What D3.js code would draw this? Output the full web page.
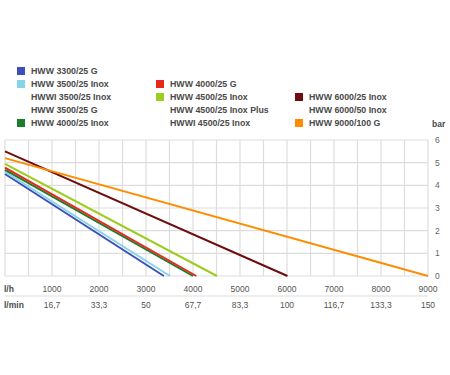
<!DOCTYPE html>
<html>
<head>
<meta charset="utf-8">
<script src="https://cdn.jsdelivr.net/npm/d3@7"></script>
<style>
  body { margin: 0; background: #fff; }
  svg { font-family: "Liberation Sans", Arial, sans-serif; }
</style>
</head>
<body>
<svg id="chart" width="450" height="375"></svg>
<script>
// Pump curves: start pressure (bar) at 0 l/h, falls straight to 0 bar at max flow
var seriesNames = ['HWW 3300/25 G', 'HWW 3500/25 Inox', 'HWW 4000/25 Inox', 'HWW 4000/25 G',
                   'HWW 4500/25 Inox', 'HWW 6000/25 Inox', 'HWW 9000/100 G'];
var seriesColors = ['#3d4fb8', '#86d4ea', '#1b7d2b', '#e5281a', '#9ccc1c', '#6e0d0d', '#ff8c00'];
var startPressure = [4.5, 4.6, 4.68, 4.78, 4.95, 5.5, 5.2];
var maxFlow = [3380, 3510, 4000, 4070, 4510, 6010, 9000];

// Legend, one list per column (bottom aligned)
var legendColumns = [
  ['HWW 3300/25 G', 'HWW 3500/25 Inox', 'HWWI 3500/25 Inox', 'HWW 3500/25 G', 'HWW 4000/25 Inox'],
  ['HWW 4000/25 G', 'HWW 4500/25 Inox', 'HWW 4500/25 Inox Plus', 'HWWI 4500/25 Inox'],
  ['HWW 6000/25 Inox', 'HWW 6000/50 Inox', 'HWW 9000/100 G']
];

var flowTicks = [1000, 2000, 3000, 4000, 5000, 6000, 7000, 8000, 9000];
var minuteLabels = ['16,7', '33,3', '50', '67,7', '83,3', '100', '116,7', '133,3', '150'];
var pressureTicks = [0, 1, 2, 3, 4, 5, 6];

var config = {
  left: 5, right: 428, top: 140, bottom: 276,
  legendX: [17, 156, 295], legendY: 71, legendRow: 13,
  textColor: '#4a4a4a', gridColor: '#dddddd'
};

var svg = d3.select('#chart');

var x = d3.scaleLinear().domain([0, 9000]).range([config.left, config.right]);
var y = d3.scaleLinear().domain([0, 6]).range([config.bottom, config.top]);

// Grid
var grid = svg.append('g');
grid.selectAll('line.v')
  .data(d3.range(0, 9001, 500))
  .enter().append('line')
  .attr('x1', function(d) { return x(d); })
  .attr('x2', function(d) { return x(d); })
  .attr('y1', y(6)).attr('y2', y(0))
  .attr('stroke', config.gridColor).attr('stroke-width', 1.2);
grid.selectAll('line.h')
  .data(pressureTicks)
  .enter().append('line')
  .attr('x1', x(0)).attr('x2', x(9000))
  .attr('y1', function(d) { return y(d); })
  .attr('y2', function(d) { return y(d); })
  .attr('stroke', config.gridColor).attr('stroke-width', 1.2);

// Right axis labels
svg.selectAll('text.ylab')
  .data(pressureTicks)
  .enter().append('text')
  .attr('x', 435).attr('y', function(d) { return y(d); })
  .attr('dy', '0.35em')
  .attr('font-size', 8.5).attr('fill', '#666')
  .text(function(d) { return d; });
svg.append('text')
  .attr('x', 432).attr('y', 127)
  .attr('font-size', 8.5).attr('font-weight', 'bold').attr('fill', config.textColor)
  .text('bar');

// Pump lines
var line = d3.line()
  .x(function(d) { return x(d[0]); })
  .y(function(d) { return y(d[1]); });

seriesNames.forEach(function(name, i) {
  svg.append('path')
    .attr('d', line([[0, startPressure[i]], [maxFlow[i], 0]]))
    .attr('stroke', seriesColors[i])
    .attr('stroke-width', 2)
    .attr('fill', 'none');
});

// Bottom scales
svg.selectAll('text.lh')
  .data(flowTicks)
  .enter().append('text')
  .attr('x', function(d) { return x(d); }).attr('y', 292)
  .attr('text-anchor', 'middle')
  .attr('font-size', 8.5).attr('fill', '#555')
  .text(function(d) { return d; });
svg.selectAll('text.lmin')
  .data(minuteLabels)
  .enter().append('text')
  .attr('x', function(d, i) { return x(flowTicks[i]); }).attr('y', 308)
  .attr('text-anchor', 'middle')
  .attr('font-size', 8.5).attr('fill', '#555')
  .text(function(d) { return d; });
svg.append('text').attr('x', 4).attr('y', 292)
  .attr('font-size', 8.5).attr('font-weight', 'bold').attr('fill', config.textColor)
  .text('l/h');
svg.append('text').attr('x', 4).attr('y', 308)
  .attr('font-size', 8.5).attr('font-weight', 'bold').attr('fill', config.textColor)
  .text('l/min');
svg.append('line')
  .attr('x1', x(0)).attr('x2', x(9000))
  .attr('y1', 296).attr('y2', 296)
  .attr('stroke', config.gridColor).attr('stroke-width', 1.2);

// Legend
legendColumns.forEach(function(col, c) {
  var offset = 5 - col.length;
  col.forEach(function(name, r) {
    var cy = config.legendY + (r + offset) * config.legendRow;
    var idx = seriesNames.indexOf(name);
    if (idx >= 0) {
      svg.append('rect')
        .attr('x', config.legendX[c]).attr('y', cy - 4)
        .attr('width', 8).attr('height', 8)
        .attr('fill', seriesColors[idx]);
    }
    svg.append('text')
      .attr('x', config.legendX[c] + 14).attr('y', cy)
      .attr('dy', '0.35em')
      .attr('font-size', 8.8).attr('font-weight', 'bold').attr('fill', config.textColor)
      .text(name);
  });
});
</script>
</body>
</html>
